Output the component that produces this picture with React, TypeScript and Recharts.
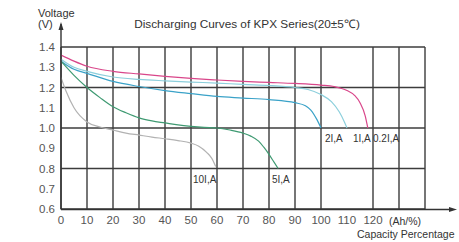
import { LineChart, Line, XAxis, YAxis, CartesianGrid } from 'recharts'

// capacity (%) and voltage readings per discharge rate
const cap02 = [0, 5, 10, 20, 30, 40, 50, 60, 70, 80, 90, 100, 105, 110, 113, 115, 117, 118]
const volt02 = [1.36, 1.33, 1.305, 1.28, 1.267, 1.255, 1.245, 1.237, 1.23, 1.225, 1.22, 1.212, 1.205, 1.185, 1.16, 1.125, 1.06, 1.0]

const cap1 = [0, 5, 10, 20, 30, 40, 50, 60, 70, 80, 90, 95, 100, 104, 107, 109, 110]
const volt1 = [1.34, 1.3, 1.28, 1.252, 1.24, 1.233, 1.227, 1.222, 1.215, 1.21, 1.2, 1.19, 1.165, 1.13, 1.08, 1.03, 1.0]

const cap2 = [0, 5, 10, 20, 30, 40, 50, 60, 70, 80, 90, 94, 96, 98.5, 100]
const volt2 = [1.33, 1.29, 1.27, 1.23, 1.205, 1.185, 1.17, 1.156, 1.148, 1.14, 1.125, 1.11, 1.09, 1.04, 1.0]

const cap5 = [0, 5, 10, 15, 20, 25, 30, 35, 40, 45, 50, 55, 60, 65, 70, 73, 76, 78, 80, 82, 83.5]
const volt5 = [1.33, 1.26, 1.2, 1.15, 1.105, 1.075, 1.05, 1.035, 1.025, 1.015, 1.008, 1.003, 1.0, 0.99, 0.975, 0.96, 0.935, 0.905, 0.87, 0.83, 0.8]

const cap10 = [0, 2, 5, 10, 15, 20, 25, 30, 35, 40, 45, 50, 53, 56, 58, 59.5]
const volt10 = [1.25, 1.18, 1.1, 1.03, 1.005, 0.99, 0.975, 0.965, 0.955, 0.947, 0.938, 0.925, 0.91, 0.88, 0.85, 0.81]

const xTicks = [0, 10, 20, 30, 40, 50, 60, 70, 80, 90, 100, 110, 120, 130, 140]
const yTicks = [0.6, 0.7, 0.8, 0.9, 1.0, 1.1, 1.2, 1.3, 1.4]

const toPoints = (xs: number[], vs: number[]) => xs.map((x, i) => ({ x, v: vs[i] }))

const series = [
  { name: '0.2I,A', data: toPoints(cap02, volt02), color: '#d9468a' },
  { name: '1I,A', data: toPoints(cap1, volt1), color: '#8ccfdc' },
  { name: '2I,A', data: toPoints(cap2, volt2), color: '#3aa2c8' },
  { name: '5I,A', data: toPoints(cap5, volt5), color: '#3f9a72' },
  { name: '10I,A', data: toPoints(cap10, volt10), color: '#b2b2b2' },
]

const tickStyle = { fill: '#555', fontSize: 11.5 }

export default function App() {
  return (
    <div
      style={{
        position: 'absolute',
        left: 0,
        top: 0,
        width: 459,
        height: 242,
        background: '#fff',
        fontFamily: '"Liberation Sans", Arial, sans-serif',
      }}
    >
      <LineChart width={459} height={242} margin={{ top: 47, right: 34, left: 0, bottom: 0 }}>
        <CartesianGrid stroke="#3c3c3c" strokeWidth={1.4} />
        <XAxis
          dataKey="x"
          type="number"
          domain={[0, 140]}
          ticks={xTicks}
          tickFormatter={(v: number) => (v > 120 ? '' : String(v))}
          axisLine={false}
          tickLine={false}
          tickSize={5}
          tickMargin={2}
          height={33}
          tick={tickStyle}
          allowDataOverflow
        />
        <YAxis
          type="number"
          domain={[0.6, 1.4]}
          ticks={yTicks}
          tickFormatter={(v: number) => v.toFixed(1)}
          axisLine={false}
          tickLine={false}
          tickSize={4}
          tickMargin={2}
          width={61}
          tick={tickStyle}
        />
        {series.map((s) => (
          <Line
            key={s.name}
            data={s.data}
            dataKey="v"
            type="monotone"
            stroke={s.color}
            strokeWidth={1.2}
            dot={false}
            activeDot={false}
            isAnimationActive={false}
          />
        ))}
      </LineChart>
      <svg
        width={459}
        height={242}
        style={{ position: 'absolute', left: 0, top: 0, pointerEvents: 'none' }}
        fontFamily='"Liberation Sans", Arial, sans-serif'
      >
        {/* axes with arrows */}
        <line x1={61} y1={209.5} x2={61} y2={24} stroke="#333" strokeWidth={1.4} />
        <polygon points="58.5,30 63.5,30 61,22" fill="#333" />
        <line x1={61} y1={209.5} x2={452} y2={209.5} stroke="#333" strokeWidth={1.4} />
        <polygon points="449,207 449,212 457,209.5" fill="#333" />

        <text x={38} y={17} fontSize={11} fill="#333">Voltage</text>
        <text x={38} y={28} fontSize={11} fill="#333">(V)</text>
        <text x={247} y={28} fontSize={11.8} fill="#333" textAnchor="middle">
          Discharging Curves of KPX Series(20±5℃)
        </text>
        <text x={389} y={225} fontSize={10.5} fill="#333">(Ah/%)</text>
        <text x={357} y={237.5} fontSize={10.5} fill="#333">Capacity Percentage</text>

        <text x={193} y={183} fontSize={10} fill="#333">10I,A</text>
        <text x={272} y={183} fontSize={10} fill="#333">5I,A</text>
        <text x={325} y={142} fontSize={10} fill="#333">2I,A</text>
        <text x={353} y={142} fontSize={10} fill="#333">1I,A</text>
        <text x={373} y={142} fontSize={10} fill="#333">0.2I,A</text>
      </svg>
    </div>
  )
}
